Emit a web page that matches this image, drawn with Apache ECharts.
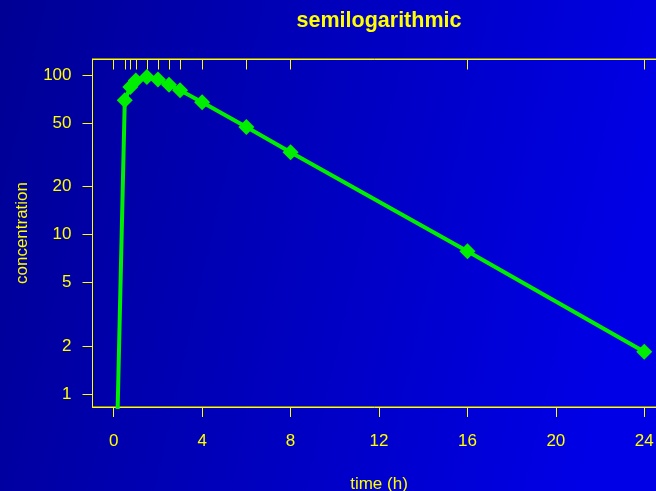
<!DOCTYPE html>
<html>
<head>
<meta charset="utf-8">
<title>semilogarithmic</title>
<script src="https://cdn.jsdelivr.net/npm/echarts@6/dist/echarts.min.js"></script>
<style>
  html, body { margin: 0; padding: 0; }
  #chart { width: 656px; height: 491px; }
</style>
</head>
<body>
<div id="chart"></div>
<script>
// Sampling times (h) and measured concentrations
const times = [0, 0.5, 0.75, 1, 1.5, 2, 2.5, 3, 4, 6, 8, 16, 24];
const conc = [0.07, 69.5, 84.1, 92.4, 97.2, 93.7, 86.9, 80.2, 67.5, 47.2, 32.8, 7.86, 1.85];

// Tick labels
const xTicks = [0, 4, 8, 12, 16, 20, 24];
const yTicks = [1, 2, 5, 10, 20, 50, 100];

const FONT = "'Liberation Sans', Arial, sans-serif";
const YELLOW = '#ffff00';
const GREEN = '#00ee00';

const chart = echarts.init(document.getElementById('chart'));

const seriesData = times.map((t, i) => [t, conc[i]]);

chart.setOption({
  animation: false,
  backgroundColor: {
    type: 'linear', x: 0, y: 0, x2: 1, y2: 0.3,
    colorStops: [
      { offset: 0, color: '#000094' },
      { offset: 1, color: '#0000e6' }
    ]
  },
  title: {
    text: 'semilogarithmic',
    left: 374,
    top: 5,
    textAlign: 'center',
    textStyle: { color: YELLOW, fontFamily: FONT, fontWeight: 'bold', fontSize: 21.5 }
  },
  grid: {
    left: 92.5, top: 59, width: 573, height: 348,
    outerBoundsMode: 'none',
    containLabel: false,
    show: true, borderColor: YELLOW, borderWidth: 1,
    backgroundColor: 'transparent'
  },
  xAxis: [
    {
      type: 'value', position: 'bottom', min: -0.96, max: 24.96,
      name: 'time (h)', nameLocation: 'middle', nameGap: 69,
      nameTextStyle: { color: YELLOW, fontFamily: FONT, fontSize: 17 },
      splitLine: { show: false },
      axisLine: { show: true, onZero: false, lineStyle: { color: YELLOW, width: 1 } },
      axisTick: { show: true, inside: false, length: 10, customValues: xTicks, lineStyle: { color: YELLOW } },
      axisLabel: { customValues: xTicks, color: YELLOW, fontFamily: FONT, fontSize: 17, margin: 26 }
    },
    {
      // rug of sampling times along the top edge
      type: 'value', position: 'top', min: -0.96, max: 24.96,
      splitLine: { show: false },
      axisLine: { show: true, onZero: false, lineStyle: { color: YELLOW, width: 1 } },
      axisTick: { show: true, inside: true, length: 10.5, customValues: times, lineStyle: { color: YELLOW } },
      axisLabel: { show: false }
    }
  ],
  yAxis: {
    type: 'log', logBase: 10, min: 0.8326, max: 125.9,
    name: 'concentration', nameLocation: 'middle', nameGap: 62, nameRotate: 90,
    nameTextStyle: { color: YELLOW, fontFamily: FONT, fontSize: 17 },
    splitLine: { show: false },
    minorTick: { show: false },
    axisLine: { show: true, onZero: false, lineStyle: { color: YELLOW, width: 1 } },
    axisTick: { show: true, inside: false, length: 10, customValues: yTicks, lineStyle: { color: YELLOW } },
    axisLabel: { customValues: yTicks, color: YELLOW, fontFamily: FONT, fontSize: 17, margin: 21 }
  },
  series: [{
    type: 'line',
    data: seriesData,
    clip: true,
    symbol: 'diamond',
    symbolSize: 16,
    showAllSymbol: true,
    lineStyle: { color: GREEN, width: 4 },
    itemStyle: { color: GREEN },
    emphasis: { disabled: true }
  }]
});
</script>
</body>
</html>
